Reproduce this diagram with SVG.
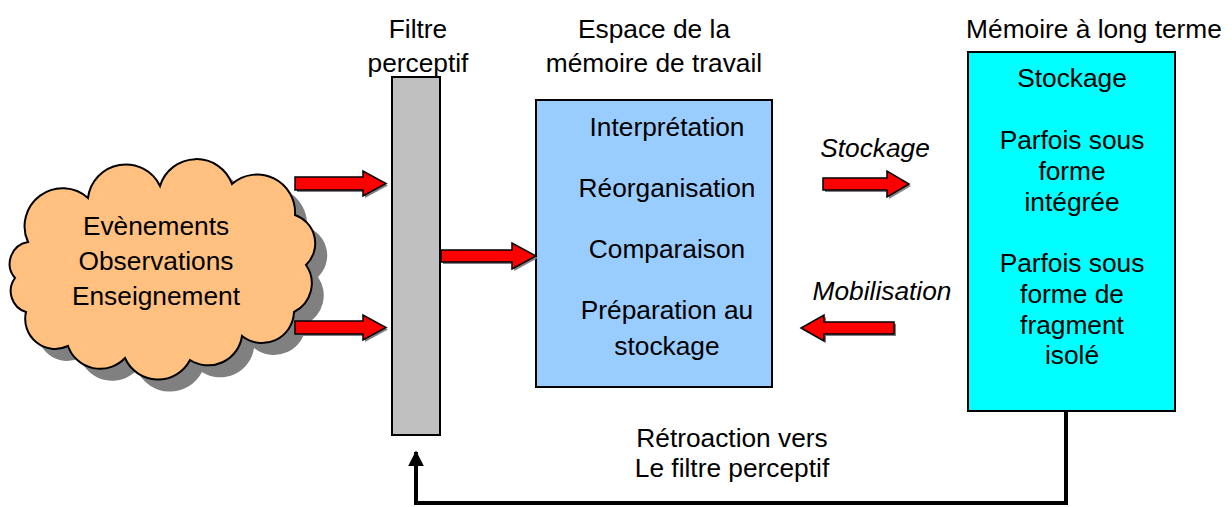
<svg xmlns="http://www.w3.org/2000/svg" width="1232" height="507" viewBox="0 0 1232 507">
<style>
text{font-family:"Liberation Sans",Arial,sans-serif;font-size:26.3px;fill:#000;text-anchor:middle}
.it{font-style:italic}
.box{stroke:#000;stroke-width:2}
.arr{fill:#FF0000;stroke:#000;stroke-width:1.5;stroke-linejoin:miter}
.ash{fill:#808080}
</style>
<defs>
<marker id="ah" markerWidth="4" markerHeight="4" refX="3.6" refY="2" orient="auto" markerUnits="strokeWidth">
<path d="M0,0 L4,2 L0,4 Z" fill="#000"/>
</marker>
<path id="cloud" d="M28,242 A38,38 0 0 1 88,198 A38,38 0 0 1 160,186 A38,38 0 0 1 232,184 A38,38 0 0 1 295,215 A30,30 0 0 1 306,265 A32,32 0 0 1 294,312 A32,32 0 0 1 242,336 A34,34 0 0 1 190,360 A36,36 0 0 1 125,358 A34,34 0 0 1 68,346 A30,30 0 0 1 26,312 A22,22 0 0 1 15,278 A22,22 0 0 1 28,242 Z"/>
</defs>

<g id="cloud-node">
<use href="#cloud" transform="translate(12,12)" fill="#808080"/>
<use href="#cloud" fill="#FFC080" stroke="#000" stroke-width="2"/>
<text x="156" y="235">Evènements</text>
<text x="156" y="270">Observations</text>
<text x="156" y="305">Enseignement</text>
</g>

<g id="filtre">
<text x="418" y="38">Filtre</text>
<text x="418" y="72">perceptif</text>
<rect class="box" x="392" y="77" width="48" height="358" fill="#C0C0C0"/>
</g>

<g id="memoire-travail">
<text x="654" y="38">Espace de la</text>
<text x="654" y="72">mémoire de travail</text>
<rect class="box" x="536" y="100" width="236" height="287" fill="#99CCFF"/>
<text x="667" y="136">Interprétation</text>
<text x="667" y="197">Réorganisation</text>
<text x="667" y="258">Comparaison</text>
<text x="667" y="319">Préparation au</text>
<text x="667" y="355">stockage</text>
</g>

<g id="memoire-long-terme">
<text x="1094" y="38">Mémoire à long terme</text>
<rect class="box" x="968" y="52" width="207" height="359" fill="#00FFFF"/>
<text x="1072" y="87">Stockage</text>
<text x="1072" y="149">Parfois sous</text>
<text x="1072" y="180">forme</text>
<text x="1072" y="211">intégrée</text>
<text x="1072" y="272">Parfois sous</text>
<text x="1072" y="303">forme de</text>
<text x="1072" y="334">fragment</text>
<text x="1072" y="364">isolé</text>
</g>

<g id="connectors">
<g transform="translate(2,2)">
<polygon class="ash" points="295,177 363,177 363,171 386,183.5 363,196 363,190 295,190"/>
<polygon class="ash" points="295,321 363,321 363,315 386,327.5 363,340 363,334 295,334"/>
<polygon class="ash" points="441,250 512,250 512,243 536,256 512,269 512,262 441,262"/>
<polygon class="ash" points="823,178 887,178 887,171 909,184 887,197 887,190 823,190"/>
<polygon class="ash" points="894,322 824,322 824,315 801,328 824,341 824,334 894,334"/>
</g>
<polygon class="arr" points="295,177 363,177 363,171 386,183.5 363,196 363,190 295,190"/>
<polygon class="arr" points="295,321 363,321 363,315 386,327.5 363,340 363,334 295,334"/>
<polygon class="arr" points="441,250 512,250 512,243 536,256 512,269 512,262 441,262"/>
<polygon class="arr" points="823,178 887,178 887,171 909,184 887,197 887,190 823,190"/>
<polygon class="arr" points="894,322 824,322 824,315 801,328 824,341 824,334 894,334"/>
<text class="it" x="875" y="157">Stockage</text>
<text class="it" x="882" y="300">Mobilisation</text>
<path d="M1066,412 V503 H416 V452" fill="none" stroke="#000" stroke-width="4" marker-end="url(#ah)"/>
<text x="732" y="447">Rétroaction vers</text>
<text x="732" y="477">Le filtre perceptif</text>
</g>
</svg>
